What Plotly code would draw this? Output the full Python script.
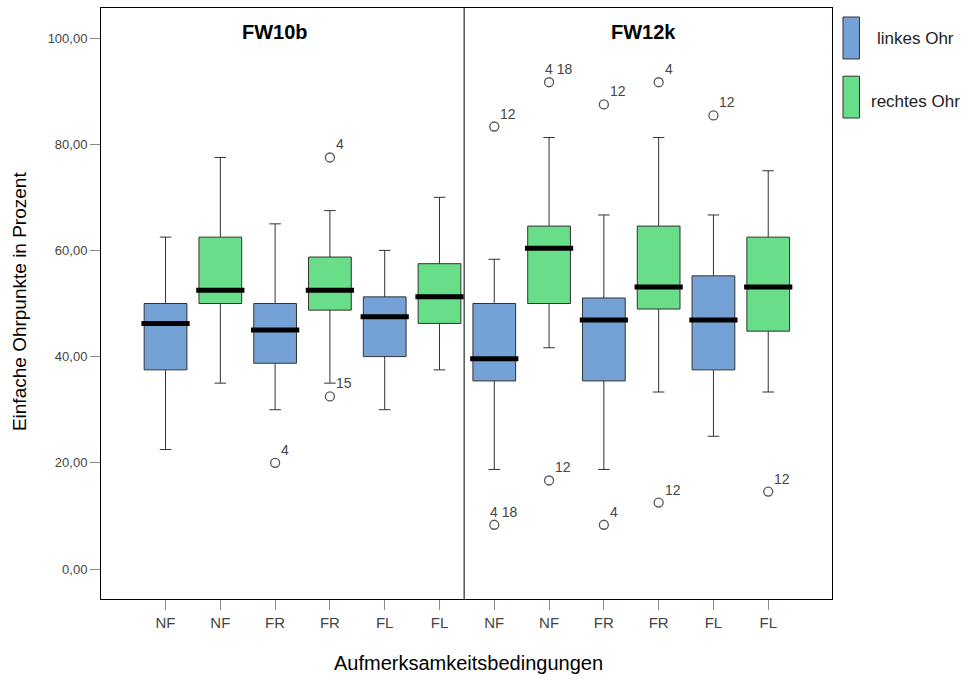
import plotly.graph_objects as go

# ---- data -------------------------------------------------------------
groups = ["FW10b", "FW12k"]
conditions = ["NF", "FR", "FL"]
ears = ["linkes Ohr", "rechtes Ohr"]

# order of boxes per ear: FW10b NF, FR, FL, FW12k NF, FR, FL
links_lower = [22.5, 30.0, 30.0, 18.75, 18.75, 25.0]
links_q1 = [37.5, 38.75, 40.0, 35.42, 35.42, 37.5]
links_median = [46.25, 45.0, 47.5, 39.58, 46.88, 46.88]
links_q3 = [50.0, 50.0, 51.25, 50.0, 51.04, 55.21]
links_upper = [62.5, 65.0, 60.0, 58.33, 66.67, 66.67]

rechts_lower = [35.0, 35.0, 37.5, 41.67, 33.33, 33.33]
rechts_q1 = [50.0, 48.75, 46.25, 50.0, 48.96, 44.79]
rechts_median = [52.5, 52.5, 51.25, 60.42, 53.13, 53.13]
rechts_q3 = [62.5, 58.75, 57.5, 64.58, 64.58, 62.5]
rechts_upper = [77.5, 67.5, 70.0, 81.25, 81.25, 75.0]

# outliers: (group, condition, ear index, value, case label)
outliers = [
    ("FW10b", "FR", 0, 20.0, "4"),
    ("FW10b", "FR", 1, 77.5, "4"),
    ("FW10b", "FR", 1, 32.5, "15"),
    ("FW12k", "NF", 0, 83.33, "12"),
    ("FW12k", "NF", 0, 8.33, "4 18"),
    ("FW12k", "NF", 1, 91.67, "4 18"),
    ("FW12k", "NF", 1, 16.67, "12"),
    ("FW12k", "FR", 0, 87.5, "12"),
    ("FW12k", "FR", 0, 8.33, "4"),
    ("FW12k", "FR", 1, 91.67, "4"),
    ("FW12k", "FR", 1, 12.5, "12"),
    ("FW12k", "FL", 0, 85.42, "12"),
    ("FW12k", "FL", 1, 14.58, "12"),
]

y_tickvals = [0, 20, 40, 60, 80, 100]
y_ticktext = ["0,00", "20,00", "40,00", "60,00", "80,00", "100,00"]

# ---- layout constants ---------------------------------------------------
W, H = 965, 680
L, R, T, B = 100.7, 132.5, 8.3, 80.7
FONT = "Liberation Sans, Arial, sans-serif"
BLUE = "#74a2d6"
GREEN = "#67de87"
EDGE = "#333333"
BOX_W = 0.78
MED_HALF = 0.44


def pos(group, cond, ear):
    return groups.index(group) * 6 + conditions.index(cond) * 2 + ear


def px_x(px):
    return (px - L) / (W - L - R)


def px_y(py):
    return (H - B - py) / (H - T - B)


def text_at(cx, cy, text, size, color="black", angle=0):
    fig.add_annotation(
        x=px_x(cx), y=px_y(cy), xref="paper", yref="paper",
        xanchor="center", yanchor="middle",
        text=text, textangle=angle, showarrow=False,
        font=dict(family=FONT, size=size, color=color),
    )


box_pos = [[pos(g, c, e) for g in groups for c in conditions] for e in range(2)]
tick_pos = sorted(box_pos[0] + box_pos[1])
tick_text = [conditions[(p % 6) // 2] for p in tick_pos]

fig = go.Figure()

stats = [
    (links_lower, links_q1, links_median, links_q3, links_upper, BLUE),
    (rechts_lower, rechts_q1, rechts_median, rechts_q3, rechts_upper, GREEN),
]

for e, (lo, q1, med, q3, up, col) in enumerate(stats):
    fig.add_trace(go.Box(
        x=box_pos[e], q1=q1, median=med, q3=q3,
        lowerfence=lo, upperfence=up,
        width=BOX_W, whiskerwidth=0.27,
        fillcolor=col, line=dict(color=EDGE, width=1),
        name=ears[e], showlegend=False, hoverinfo="skip",
    ))

# thick median bars
for e, (_, _, med, _, _, _) in enumerate(stats):
    xs, ys = [], []
    for p, m in zip(box_pos[e], med):
        xs += [p - MED_HALF, p + MED_HALF, None]
        ys += [m, m, None]
    fig.add_trace(go.Scatter(
        x=xs, y=ys, mode="lines",
        line=dict(color="black", width=5),
        showlegend=False, hoverinfo="skip",
    ))

# outliers
ox = [pos(g, c, e) for g, c, e, _, _ in outliers]
oy = [v for _, _, _, v, _ in outliers]
fig.add_trace(go.Scatter(
    x=ox, y=oy, mode="markers",
    marker=dict(symbol="circle-open", size=9, color="#555555",
                line=dict(width=1.3, color="#555555")),
    showlegend=False, hoverinfo="skip",
))
for (g, c, e, v, lab) in outliers:
    fig.add_annotation(
        x=pos(g, c, e), y=v, text=lab, showarrow=False,
        xanchor="left", yanchor="bottom",
        xshift=-6 if " " in lab else 4, yshift=3,
        font=dict(family=FONT, size=14, color="#444444"),
    )

# panel divider
fig.add_shape(type="line", xref="x", yref="paper",
              x0=5.45, x1=5.45, y0=0, y1=1,
              line=dict(color="black", width=1))

# panel titles
for g, cx in zip(groups, [274.5, 643.5]):
    text_at(cx, 32, "<b>%s</b>" % g, 20)

# legend
for (y0, y1, yc), col, lab in zip([(17.3, 59.3, 39), (76.5, 118.3, 102)],
                                  [BLUE, GREEN], ears):
    fig.add_shape(type="rect", xref="paper", yref="paper",
                  x0=px_x(843.5), x1=px_x(860), y0=px_y(y1), y1=px_y(y0),
                  fillcolor=col, line=dict(color=EDGE, width=1))
    text_at(916, yc, lab, 17, "#222222")

# axis titles
text_at(19, 302, "Einfache Ohrpunkte in Prozent", 19, angle=-90)
text_at(469, 663, "Aufmerksamkeitsbedingungen", 20)

fig.update_layout(
    width=W, height=H,
    margin=dict(l=L, r=R, t=T, b=B),
    paper_bgcolor="white", plot_bgcolor="white",
    showlegend=False,
    font=dict(family=FONT),
    xaxis=dict(
        range=[-1.178, 12.164], tickvals=tick_pos, ticktext=tick_text,
        ticks="outside", ticklen=10, tickcolor="#888888", tickwidth=1,
        showline=True, mirror=True, linecolor="black", linewidth=1,
        showgrid=False, zeroline=False,
        tickfont=dict(family=FONT, size=15, color="#444444"),
    ),
    yaxis=dict(
        range=[-5.65, 105.65], tickvals=y_tickvals, ticktext=y_ticktext,
        ticks="outside", ticklen=10, tickcolor="#888888", tickwidth=1,
        showline=True, mirror=True, linecolor="black", linewidth=1,
        showgrid=False, zeroline=False,
        tickfont=dict(family=FONT, size=13, color="#444444"),
    ),
)

fig.write_html("out.html")
